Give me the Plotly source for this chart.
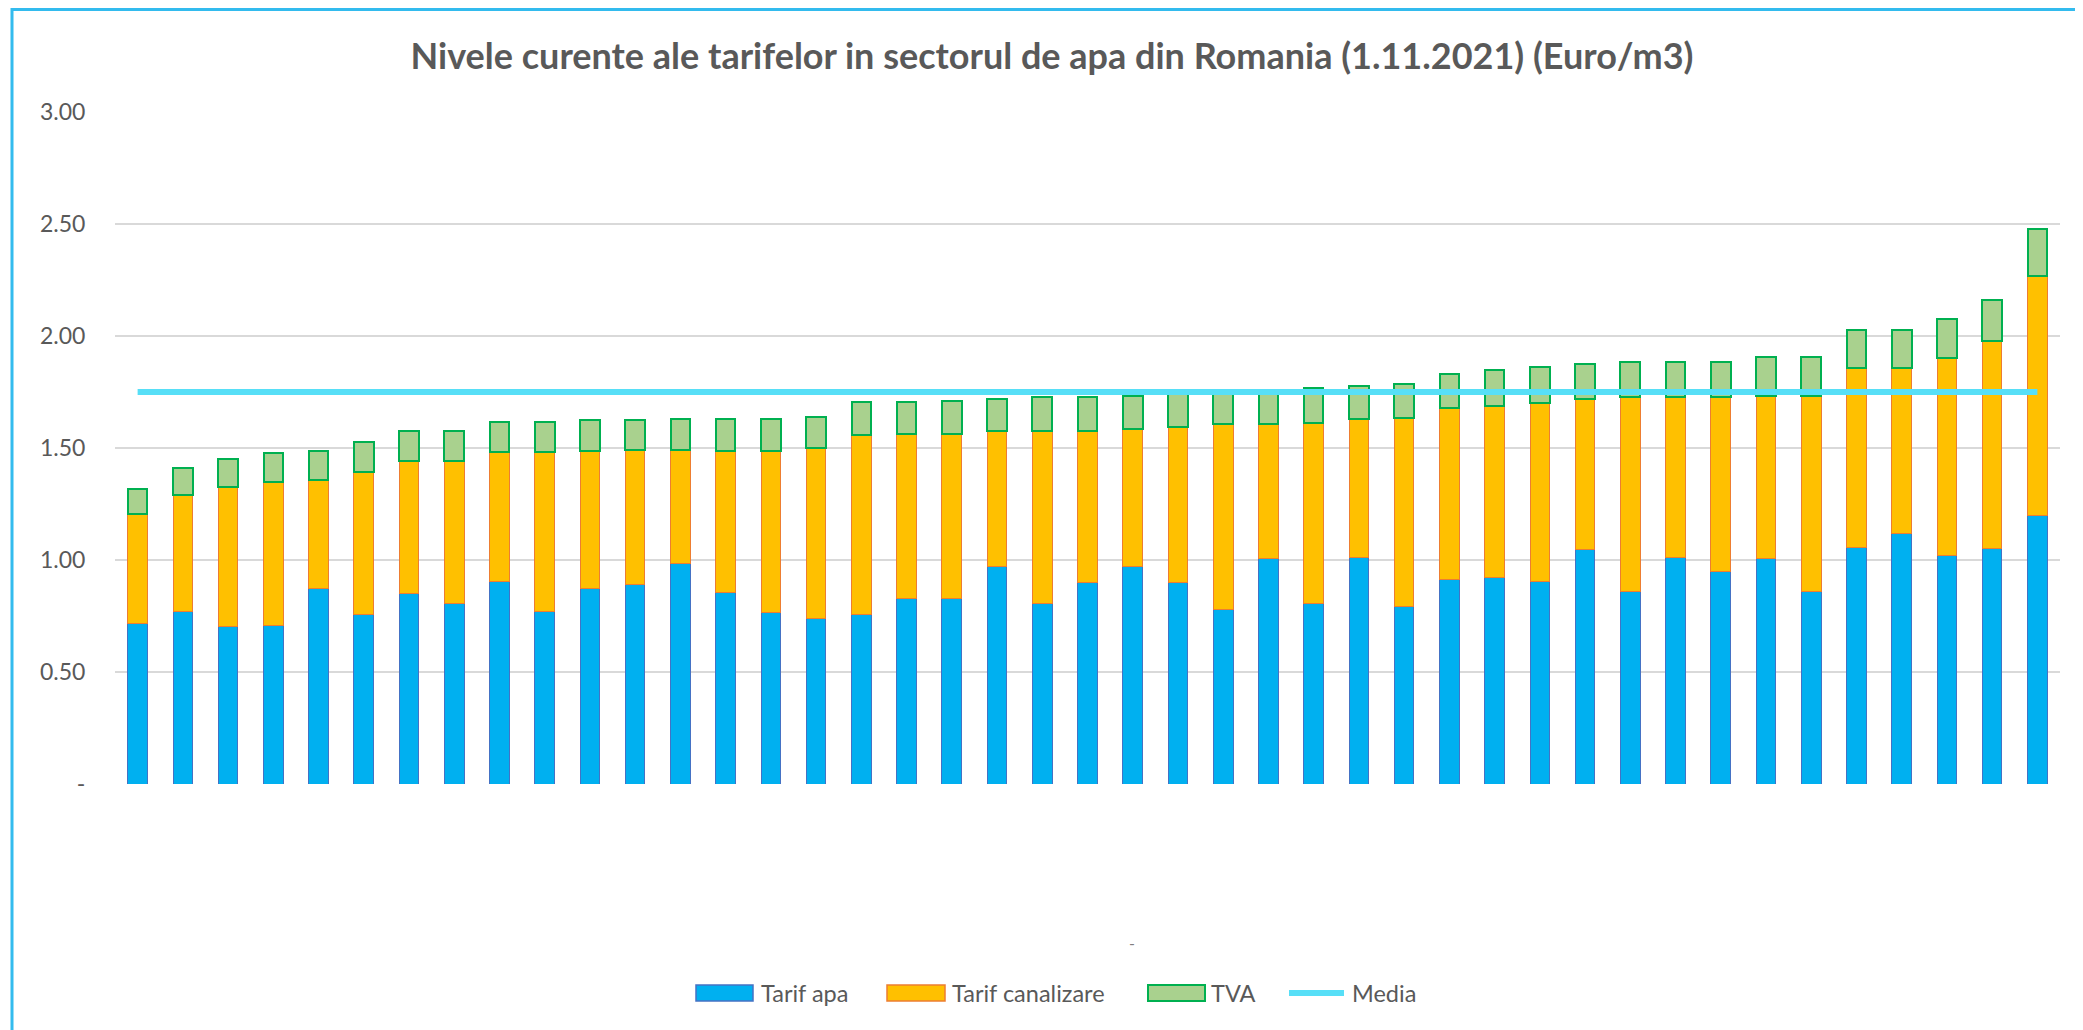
import plotly.graph_objects as go

# ---- data (Euro/m3) ----
categories = [str(i) for i in range(1, 44)]
tarif_apa = [0.715, 0.770, 0.703, 0.706, 0.872, 0.757, 0.852, 0.805, 0.905, 0.772,
             0.872, 0.891, 0.986, 0.853, 0.765, 0.741, 0.756, 0.827, 0.827, 0.970,
             0.807, 0.900, 0.973, 0.900, 0.780, 1.006, 0.804, 1.009, 0.791, 0.911,
             0.920, 0.903, 1.046, 0.858, 1.009, 0.949, 1.005, 0.858, 1.056, 1.120,
             1.021, 1.051, 1.197]
tarif_canalizare = [0.492, 0.522, 0.623, 0.644, 0.487, 0.638, 0.591, 0.638, 0.576, 0.709,
                    0.615, 0.598, 0.504, 0.635, 0.723, 0.759, 0.802, 0.734, 0.734, 0.607,
                    0.770, 0.677, 0.613, 0.694, 0.826, 0.603, 0.809, 0.620, 0.841, 0.766,
                    0.769, 0.800, 0.674, 0.868, 0.717, 0.777, 0.727, 0.874, 0.802, 0.738,
                    0.882, 0.927, 1.073]
tva = [0.112, 0.119, 0.127, 0.127, 0.127, 0.131, 0.131, 0.131, 0.136, 0.136,
       0.137, 0.138, 0.140, 0.141, 0.141, 0.140, 0.146, 0.146, 0.149, 0.143,
       0.151, 0.151, 0.148, 0.147, 0.150, 0.150, 0.155, 0.149, 0.153, 0.152,
       0.161, 0.157, 0.157, 0.156, 0.156, 0.156, 0.176, 0.176, 0.169, 0.169,
       0.174, 0.181, 0.209]
media_value = 1.75
media = [media_value] * len(categories)

y_tickvals = [0, 0.5, 1.0, 1.5, 2.0, 2.5, 3.0]
y_ticktext = ["-", "0.50", "1.00", "1.50", "2.00", "2.50", "3.00"]

title_text = "Nivele curente ale tarifelor in sectorul de apa din Romania (1.11.2021) (Euro/m3)"
legend_names = ["Tarif apa", "Tarif canalizare", "TVA", "Media"]

FONT = "Lato"
TXT = "#595959"
C_APA, C_APA_LINE = "#00B0F0", "#4472C4"
C_CAN, C_CAN_LINE = "#FFC000", "#ED7D31"
C_TVA, C_TVA_LINE = "#A9D18E", "#00B050"
C_MEDIA = "#57DFF7"

fig = go.Figure()
fig.add_trace(go.Bar(x=categories, y=tarif_apa, name=legend_names[0],
                     marker=dict(color=C_APA, line=dict(color=C_APA_LINE, width=1))))
fig.add_trace(go.Bar(x=categories, y=tarif_canalizare, name=legend_names[1],
                     marker=dict(color=C_CAN, line=dict(color=C_CAN_LINE, width=1))))
fig.add_trace(go.Bar(x=categories, y=tva, name=legend_names[2],
                     marker=dict(color=C_TVA, line=dict(color=C_TVA_LINE, width=2))))
fig.add_trace(go.Scatter(x=categories, y=media, name=legend_names[3], mode="lines",
                         line=dict(color=C_MEDIA, width=6)))

# page has an 8px body margin -> figure pixel = reference pixel - 8
OFF = 8
W, H = 2083 - OFF, 1030 - OFF
L, R, T, B = 115 - OFF, 23, 112 - OFF, 1030 - 784
pw = W - L - R
ph = H - T - B


def px_x(px):
    return (px - OFF - L) / pw


def px_y(py):
    return (H - B - (py - OFF)) / ph


# custom legend (large swatches like the original)
sw_y0, sw_y1, leg_y = 985, 1001, 993
swatches = [(696, 753, C_APA, C_APA_LINE, 1.5), (887, 945, C_CAN, C_CAN_LINE, 1.5),
            (1148, 1205, C_TVA, C_TVA_LINE, 2)]
label_x = [759, 950, 1209, 1350]

shapes = [
    dict(type="line", xref="paper", yref="paper", x0=px_x(12), x1=px_x(2083),
         y0=px_y(9.5), y1=px_y(9.5), line=dict(color="#33BBEE", width=3)),
    dict(type="line", xref="paper", yref="paper", x0=px_x(12), x1=px_x(12),
         y0=px_y(8), y1=px_y(1030), line=dict(color="#33BBEE", width=3)),
]
for x0, x1, fc, lc, lw in swatches:
    shapes.append(dict(type="rect", xref="paper", yref="paper", x0=px_x(x0), x1=px_x(x1),
                       y0=px_y(sw_y1), y1=px_y(sw_y0), fillcolor=fc,
                       line=dict(color=lc, width=lw)))
shapes.append(dict(type="line", xref="paper", yref="paper", x0=px_x(1289), x1=px_x(1344),
                   y0=px_y(leg_y), y1=px_y(leg_y), line=dict(color=C_MEDIA, width=6)))

annotations = [
    dict(text="-", xref="paper", yref="paper", x=px_x(1132), y=px_y(954),
         showarrow=False, font=dict(family=FONT, size=16, color="#7F7F7F")),
]
for name, lx in zip(legend_names, label_x):
    annotations.append(dict(text=name, xref="paper", yref="paper", x=px_x(lx), y=px_y(leg_y),
                            xanchor="left", yanchor="middle", showarrow=False,
                            font=dict(family=FONT, size=23.5, color=TXT)))

fig.update_layout(
    width=W, height=H,
    margin=dict(l=L, r=R, t=T, b=B, pad=0),
    barmode="stack",
    bargap=0.566,
    plot_bgcolor="white",
    paper_bgcolor="white",
    font=dict(family=FONT, color=TXT, size=20),
    title=dict(text="<b>" + title_text + "</b>", x=(1052 - OFF) / W, xanchor="center",
               y=1 - (56 - OFF) / H, yanchor="middle", xref="container", yref="container",
               font=dict(family=FONT, size=36, color=TXT)),
    xaxis=dict(showticklabels=False, showgrid=False, zeroline=False, showline=False,
               ticks="", range=[-0.5, len(categories) - 0.5]),
    yaxis=dict(range=[0, 3], tickvals=y_tickvals, ticktext=y_ticktext,
               showgrid=True, gridcolor="#D9D9D9", gridwidth=2,
               zeroline=False, showline=False, ticks="outside", ticklen=24,
               tickcolor="rgba(0,0,0,0)", tickfont=dict(family=FONT, size=23, color=TXT)),
    showlegend=False,
    shapes=shapes,
    annotations=annotations,
)

fig.write_html("out.html")
